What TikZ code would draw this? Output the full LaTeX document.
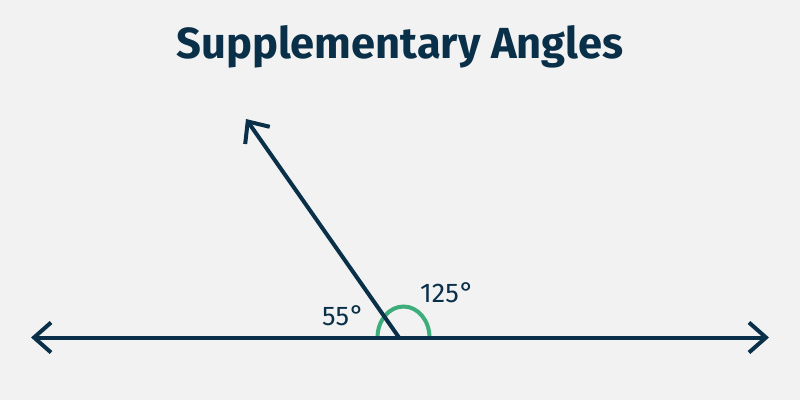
\documentclass[tikz,border=0pt]{standalone}
\usepackage{fontspec}
\setmainfont{Fira Sans}
\usetikzlibrary{arrows.meta}
\definecolor{navy}{HTML}{0A3049}
\definecolor{leaf}{HTML}{3DAE7B}
\definecolor{bg}{HTML}{F2F2F2}
\tikzset{
  tip/.tip={Straight Barb[length=17pt,width=30pt,line width=4pt,line join=miter]},
  rayline/.style={draw=navy,line width=4pt,-{tip}},
  lbl/.style={text=navy,font=\fontsize{27}{27}\selectfont,inner sep=0pt,anchor=base west},
}
\begin{document}
\begin{tikzpicture}[x=1pt,y=-1pt]
\fill[bg] (0,0) rectangle (800,400);
\useasboundingbox (0,0) rectangle (800,400);
\node[text=navy,font=\fontsize{43.5}{44}\bfseries\selectfont] (title) at (400,47) {Supplementary Angles};
\coordinate (O) at (399,337.5);
\coordinate (L) at (31,337.5);
\coordinate (R) at (769,337.5);
\coordinate (T) at (246,119);
\draw[leaf,line width=4pt] (377.5,337.5) arc[start angle=180,end angle=360,x radius=26,y radius=31];
\draw[draw=navy,line width=4pt,{tip}-{tip}] (L) -- (R);
\draw[rayline] (O) -- (T);
\node[lbl] (a55) at (322,325) {55\kern1pt\raisebox{1pt}{°}};
\node[lbl] (a125) at (420,302) {125\kern1pt\raisebox{1pt}{°}};
\end{tikzpicture}
\end{document}
